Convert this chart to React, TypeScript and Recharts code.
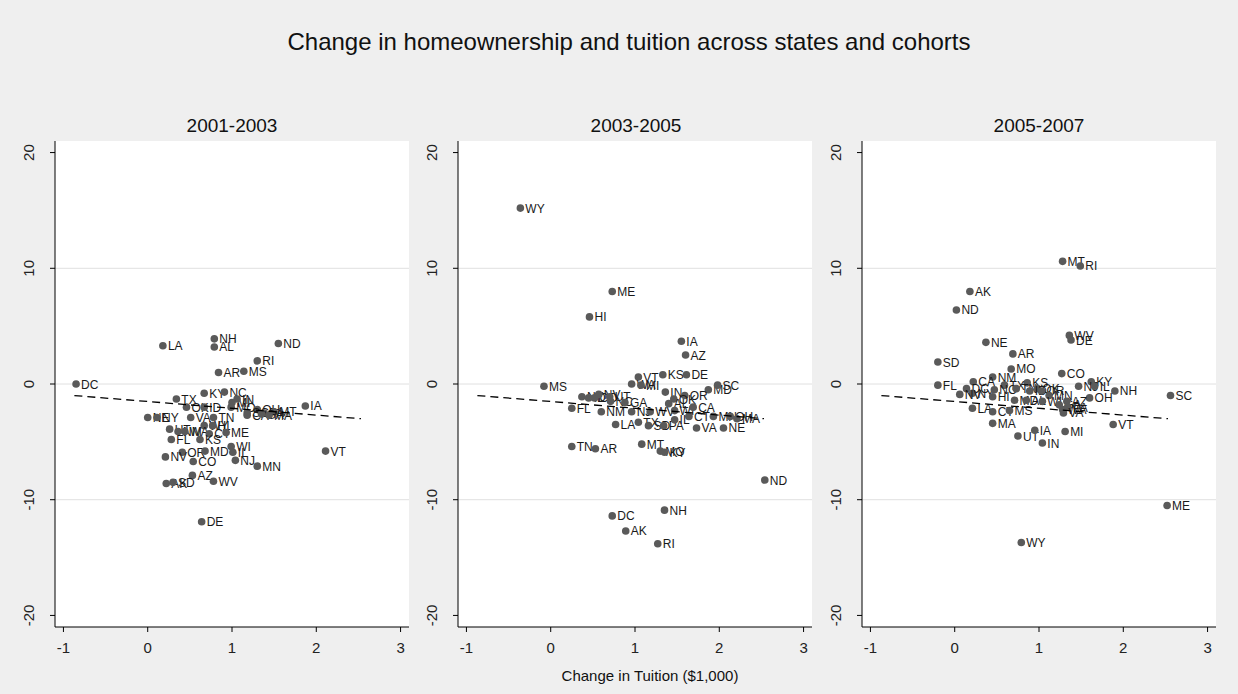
import React from 'react';
import { ScatterChart, Scatter, XAxis, YAxis, CartesianGrid } from 'recharts';

const FONT = '"Liberation Sans Narrow", "Arial Narrow", "Liberation Sans", Arial, sans-serif';

const mainTitle = 'Change in homeownership and tuition across states and cohorts';
const xTitle = 'Change in Tuition ($1,000)';
const panelTitles = ['2001-2003', '2003-2005', '2005-2007'];
const xTicks = [-1, 0, 1, 2, 3];
const yTicks = [-20, -10, 0, 10, 20];
const gridValues = [-10, 0, 10];
const fitX = [-0.87, 2.53];
const fitY = [-1.0, -3.0];

const cohort1: [string, number, number][] = [
  ['DC', -0.85, 0.0], ['LA', 0.18, 3.3], ['NH', 0.79, 3.9], ['AL', 0.79, 3.2], ['ND', 1.55, 3.5],
  ['RI', 1.30, 2.0], ['AR', 0.84, 1.0], ['MS', 1.14, 1.1], ['TX', 0.34, -1.3], ['KY', 0.67, -0.8],
  ['NC', 0.91, -0.7], ['MI', 1.0, -1.6], ['IN', 1.06, -1.3], ['IA', 1.87, -1.9], ['OK', 0.46, -2.0],
  ['ID', 0.67, -2.0], ['MO', 0.99, -2.0], ['OH', 1.30, -2.2], ['SC', 1.18, -2.5], ['PA', 1.38, -2.5],
  ['MT', 1.50, -2.4], ['CA', 1.18, -2.7], ['GA', 1.35, -2.6], ['MA', 1.44, -2.7], ['NE', 0.0, -2.9],
  ['NY', 0.11, -2.9], ['VA', 0.51, -2.9], ['TN', 0.78, -2.9], ['WY', 0.67, -3.6], ['HI', 0.77, -3.6],
  ['UT', 0.26, -3.9], ['NM', 0.36, -4.1], ['WA', 0.44, -4.1], ['CT', 0.73, -4.3], ['ME', 0.93, -4.2],
  ['FL', 0.28, -4.8], ['KS', 0.62, -4.8], ['WI', 0.99, -5.4], ['OR', 0.41, -5.9], ['MD', 0.68, -5.8],
  ['IL', 1.01, -5.9], ['NV', 0.21, -6.3], ['CO', 0.54, -6.7], ['NJ', 1.04, -6.6], ['MN', 1.30, -7.1],
  ['VT', 2.11, -5.8], ['AZ', 0.53, -7.9], ['WV', 0.78, -8.4], ['AK', 0.22, -8.6], ['SD', 0.30, -8.5],
  ['DE', 0.64, -11.9],
];

const cohort2: [string, number, number][] = [
  ['WY', -0.36, 15.2], ['ME', 0.73, 8.0], ['HI', 0.46, 5.8], ['IA', 1.55, 3.7], ['AZ', 1.60, 2.5],
  ['KS', 1.33, 0.8], ['DE', 1.61, 0.8], ['VT', 1.04, 0.6], ['WA', 0.96, 0.0], ['MI', 1.07, -0.1],
  ['MS', -0.08, -0.2], ['MD', 1.87, -0.5], ['SC', 1.98, -0.1], ['IN', 1.36, -0.7], ['OR', 1.59, -1.0],
  ['OK', 1.46, -1.3], ['NY', 0.37, -1.1], ['ID', 0.45, -1.2], ['CO', 0.52, -1.2], ['NV', 0.57, -0.9],
  ['UT', 0.70, -1.1], ['FL', 0.25, -2.1], ['NM', 0.60, -2.4], ['NC', 0.71, -1.5], ['GA', 0.88, -1.6],
  ['LA', 0.77, -3.5], ['NJ', 0.96, -2.4], ['TX', 1.04, -3.3], ['WV', 1.18, -2.4], ['SD', 1.16, -3.6],
  ['PA', 1.34, -3.6], ['AL', 1.40, -1.7], ['WI', 1.47, -2.3], ['CA', 1.69, -2.0], ['CT', 1.64, -2.8],
  ['IL', 1.47, -3.1], ['VA', 1.73, -3.8], ['NE', 2.05, -3.8], ['MN', 1.93, -2.8], ['OH', 2.13, -2.8],
  ['MA', 2.21, -3.0], ['ND', 2.54, -8.3], ['NH', 1.35, -10.9], ['RI', 1.27, -13.8], ['DC', 0.73, -11.4],
  ['AK', 0.89, -12.7], ['TN', 0.25, -5.4], ['AR', 0.53, -5.6], ['MT', 1.08, -5.2], ['MO', 1.30, -5.8],
  ['KY', 1.35, -5.9],
];

const cohort3: [string, number, number][] = [
  ['MT', 1.28, 10.6], ['RI', 1.49, 10.2], ['AK', 0.18, 8.0], ['ND', 0.02, 6.4], ['NE', 0.37, 3.6],
  ['WV', 1.36, 4.2], ['DE', 1.38, 3.8], ['AR', 0.69, 2.6], ['SD', -0.20, 1.9], ['MO', 0.67, 1.3],
  ['CO', 1.27, 0.9], ['NM', 0.45, 0.6], ['KS', 0.86, 0.1], ['FL', -0.20, -0.1], ['CA', 0.22, 0.2],
  ['KY', 1.62, 0.2], ['NJ', 1.47, -0.2], ['IL', 1.66, -0.2], ['NH', 1.90, -0.6], ['SC', 2.56, -1.0],
  ['DC', 0.14, -0.4], ['NY', 0.21, -0.8], ['NV', 0.06, -0.9], ['TX', 0.59, -0.1], ['NC', 0.47, -0.5],
  ['HI', 0.45, -1.1], ['TN', 0.73, -0.4], ['OK', 0.98, -0.4], ['ID', 0.89, -0.6], ['OR', 1.03, -0.6],
  ['MN', 1.12, -1.0], ['MD', 0.71, -1.4], ['AL', 0.85, -1.4], ['WI', 1.04, -1.5], ['OH', 1.60, -1.2],
  ['GA', 1.24, -1.8], ['AZ', 1.33, -1.5], ['WA', 1.28, -2.2], ['PA', 1.34, -2.0], ['VA', 1.29, -2.5],
  ['LA', 0.21, -2.1], ['CT', 0.45, -2.4], ['MS', 0.65, -2.3], ['MA', 0.45, -3.4], ['UT', 0.75, -4.5],
  ['IA', 0.95, -4.0], ['IN', 1.04, -5.1], ['MI', 1.31, -4.1], ['VT', 1.88, -3.5], ['ME', 2.52, -10.5],
  ['WY', 0.79, -13.7],
];

const cohorts = [cohort1, cohort2, cohort3];
const fitData = fitX.map((x, i) => ({ x, y: fitY[i] }));

const StateDot = (props: any) => {
  const { cx, cy, payload } = props;
  if (cx == null || cy == null) return <g />;
  return (
    <g>
      <circle cx={cx} cy={cy} r={3.8} fill="#5a5a5a" />
      <text x={cx + 5} y={cy + 4.5} fontSize={12} fill="#1a1a1a" fontFamily={FONT}>
        {payload.st}
      </text>
    </g>
  );
};

const YTick = (props: any) => {
  const { x, y, payload } = props;
  return (
    <text x={x} y={y} transform={`rotate(-90 ${x} ${y})`} textAnchor="middle" fontSize={15} fill="#222" fontFamily={FONT}>
      {payload.value}
    </text>
  );
};

const Panel = ({ data, left }: { data: [string, number, number][]; left: number }) => {
  const pts = data.map(([st, x, y]) => ({ st, x, y }));
  return (
    <div style={{ position: 'absolute', left, top: 0 }}>
      <ScatterChart width={420} height={694} margin={{ top: 141, right: 11, bottom: 37, left: 0 }}>
        <CartesianGrid horizontal={true} vertical={false} horizontalValues={gridValues} stroke="#e0e0e0" fill="#ffffff" />
        <XAxis
          type="number"
          dataKey="x"
          domain={[-1.1, 3.1]}
          ticks={xTicks}
          allowDataOverflow
          height={30}
          tickSize={5}
          tickMargin={10}
          stroke="#000"
          tick={{ fontSize: 15, fill: '#222', fontFamily: FONT }}
          tickLine={{ stroke: '#000' }}
        />
        <YAxis
          type="number"
          dataKey="y"
          domain={[-21, 21]}
          ticks={yTicks}
          allowDataOverflow
          width={55}
          tickSize={5}
          tickMargin={16}
          stroke="#000"
          tick={<YTick />}
          tickLine={{ stroke: '#000' }}
        />
        <Scatter data={pts} shape={<StateDot />} isAnimationActive={false} />
        <Scatter
          data={fitData}
          line={{ stroke: '#000', strokeWidth: 1.3, strokeDasharray: '8 5' }}
          shape={() => <g />}
          isAnimationActive={false}
        />
      </ScatterChart>
    </div>
  );
};

const panelLefts = [0, 403, 807];
const panelCenters = [232, 636, 1039];

export default function App() {
  return (
    <div style={{ position: 'absolute', left: 0, top: 0, width: 1238, height: 694, background: '#efefef', overflow: 'hidden', fontFamily: FONT }}>
      {cohorts.map((c, i) => (
        <Panel key={i} data={c} left={panelLefts[i]} />
      ))}
      <div style={{ position: 'absolute', left: 20, width: 1218, top: 27, textAlign: 'center', fontSize: 24, lineHeight: '30px', color: '#111' }}>
        {mainTitle}
      </div>
      {panelTitles.map((t, i) => (
        <div key={t} style={{ position: 'absolute', left: panelCenters[i] - 100, width: 200, top: 114, textAlign: 'center', fontSize: 19, lineHeight: '24px', color: '#111' }}>
          {t}
        </div>
      ))}
      <div style={{ position: 'absolute', left: 450, width: 400, top: 665, textAlign: 'center', fontSize: 15, lineHeight: '22px', color: '#111' }}>
        {xTitle}
      </div>
    </div>
  );
}
